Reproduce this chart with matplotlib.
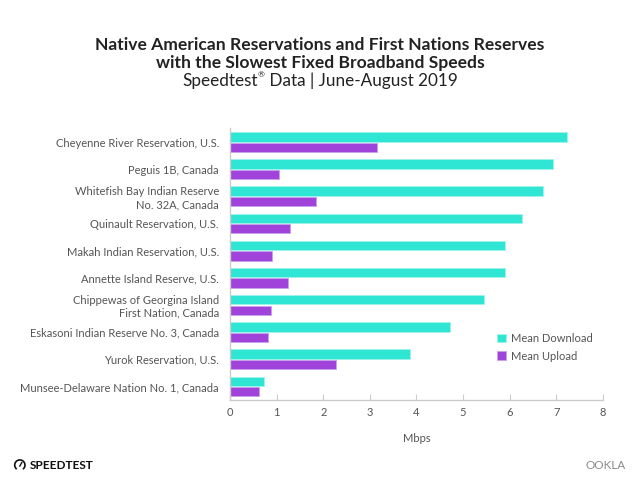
import matplotlib
matplotlib.use("Agg")
import matplotlib.pyplot as plt
import numpy as np
from matplotlib.patches import Arc
from matplotlib.lines import Line2D

categories = [
    "Cheyenne River Reservation, U.S.",
    "Peguis 1B, Canada",
    "Whitefish Bay Indian Reserve\nNo. 32A, Canada",
    "Quinault Reservation, U.S.",
    "Makah Indian Reservation, U.S.",
    "Annette Island Reserve, U.S.",
    "Chippewas of Georgina Island\nFirst Nation, Canada",
    "Eskasoni Indian Reserve No. 3, Canada",
    "Yurok Reservation, U.S.",
    "Munsee-Delaware Nation No. 1, Canada",
]
mean_download = [7.23, 6.94, 6.72, 6.26, 5.91, 5.91, 5.45, 4.72, 3.86, 0.73]
mean_upload = [3.16, 1.05, 1.85, 1.29, 0.90, 1.24, 0.88, 0.82, 2.28, 0.63]
xticks = [0, 1, 2, 3, 4, 5, 6, 7, 8]

plt.rcParams['font.family'] = ['Lato', 'DejaVu Sans']

fig = plt.figure(figsize=(6.4, 4.88), dpi=100)
ax = fig.add_axes([0.3594, 0.1803, 0.5826, 0.5564])

teal = "#2FE6D4"
purple = "#A043DA"
y = np.arange(len(categories))
h = 0.345
ax.barh(y - h/2 - 0.02, mean_download, height=h, color=teal, edgecolor="#9ff3ea", linewidth=0.6, label="Mean Download")
ax.barh(y + h/2 + 0.02, mean_upload, height=h, color=purple, edgecolor="#c9a0ec", linewidth=0.6, label="Mean Upload")

ax.set_ylim(len(categories) - 0.5, -0.5)
ax.set_xlim(0, 8)
ax.set_xticks(xticks)
ax.set_xticklabels([str(t) for t in xticks], fontsize=8, color="#555555")
ax.set_yticks(y)
ax.set_yticklabels(categories, fontsize=8, color="#555555", linespacing=1.2)
ax.tick_params(axis='y', length=0, pad=8)
ax.tick_params(axis='x', direction='in', length=4, color="#cccccc", pad=5)
for s in ['top', 'right']:
    ax.spines[s].set_visible(False)
for s in ['left', 'bottom']:
    ax.spines[s].set_color("#cccccc")
    ax.spines[s].set_linewidth(1)
ax.set_xlabel("Mbps", fontsize=8, color="#555555", labelpad=11)

leg = ax.legend(loc="lower right", bbox_to_anchor=(1.0, 0.105), frameon=False, fontsize=8,
                handlelength=0.8, handleheight=0.8, labelcolor="#555555", handletextpad=0.5,
                labelspacing=0.6)

fig.text(0.5, 0.907, "Native American Reservations and First Nations Reserves", ha="center", va="center",
         fontsize=12.6, fontweight="bold", color="#222222")
fig.text(0.5, 0.870, "with the Slowest Fixed Broadband Speeds", ha="center", va="center",
         fontsize=12.6, fontweight="bold", color="#222222")

# subtitle with small superscript registered mark
renderer = fig.canvas.get_renderer()
parts = [("Speedtest", 12.3, 0.0), ("\u00ae", 6.0, 0.012), (" Data | June-August 2019", 12.3, 0.0)]
tmp = [fig.text(0, 0, p, fontsize=s) for p, s, _ in parts]
widths = [t.get_window_extent(renderer).width / fig.bbox.width for t in tmp]
for t in tmp:
    t.remove()
total = sum(widths)
x0 = 0.5 - total / 2
for (p, s, dy), w in zip(parts, widths):
    fig.text(x0, 0.835 + dy, p, ha="left", va="center", fontsize=s, color="#222222")
    x0 += w

# footer logos
fig.text(0.047, 0.047, "SPEEDTEST", ha="left", va="center", fontsize=8.5, fontweight="bold", color="#111111")
fig.add_artist(Arc((0.031, 0.047), 0.016, 0.021, theta1=-60, theta2=240, transform=fig.transFigure,
                   color="#111111", lw=1.2))
fig.add_artist(Line2D([0.031, 0.034], [0.045, 0.052], transform=fig.transFigure, color="#111111", lw=1.0))
fig.text(0.977, 0.047, "OOKLA", ha="right", va="center", fontsize=8.5, color="#8a8a8a")

fig.savefig("out.png", dpi=100, facecolor="white")
